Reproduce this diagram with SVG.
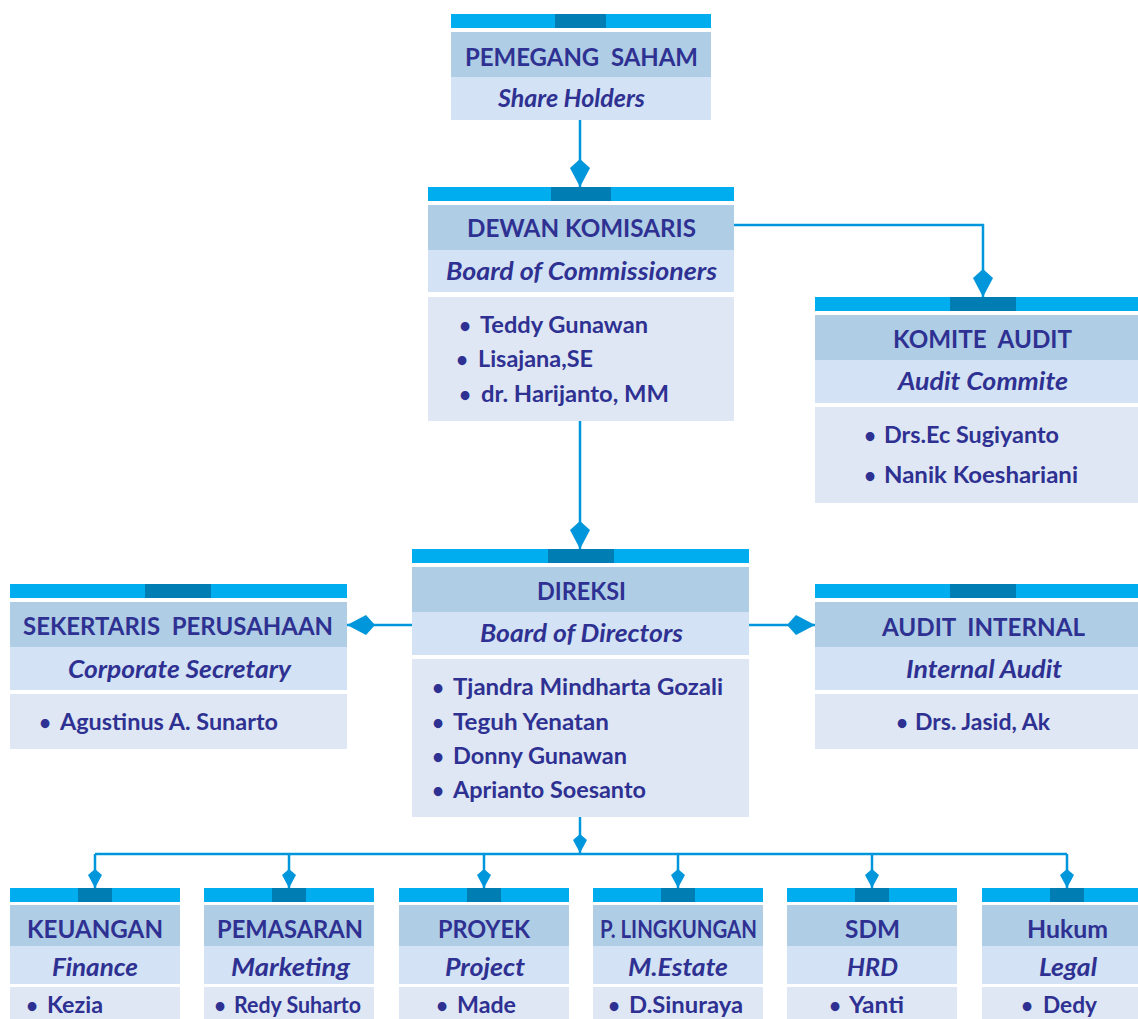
<svg xmlns="http://www.w3.org/2000/svg" width="1138" height="1019" viewBox="0 0 1138 1019">
<style>
.bar{fill:#00AEEF}
.bard{fill:#007DB3}
.hd{fill:#AFCDE5}
.sb{fill:#D3E2F4}
.ls{fill:#DFE7F4}
text{font-family:"Lato","Open Sans",sans-serif;font-weight:bold;fill:#2E3192;white-space:pre}
.t{font-size:24px}
.s{font-size:24px;font-style:italic}
.n{font-size:22.5px}
.b{font-size:20px;text-anchor:middle}
.c{fill:none;stroke:#0096DB;stroke-width:2.5}
</style>
<defs>
<marker id="dm" markerUnits="userSpaceOnUse" markerWidth="28" markerHeight="20" viewBox="0 0 28 20" refX="28" refY="10" orient="auto">
<path d="M0,10 L9,0 L28,10 L9,20 Z" fill="#0096DB"/>
</marker>
<marker id="ds" markerUnits="userSpaceOnUse" markerWidth="19" markerHeight="14" viewBox="0 0 19 14" refX="19" refY="7" orient="auto">
<path d="M0,7 L6,0 L19,7 L6,14 Z" fill="#0096DB"/>
</marker>
</defs>

<g id="connectors">
<path class="c" d="M580,120 V187" marker-end="url(#dm)"/>
<path class="c" d="M734,225 H983 V297" marker-end="url(#dm)"/>
<path class="c" d="M580,421 V549" marker-end="url(#dm)"/>
<path class="c" d="M412,625 H347" marker-end="url(#dm)"/>
<path class="c" d="M749,625 H815" marker-end="url(#dm)"/>
<path class="c" d="M580,817 V853" marker-end="url(#ds)"/>
<path class="c" d="M95,854 H1067"/>
<path class="c" d="M95,854 V888" marker-end="url(#ds)"/>
<path class="c" d="M289,854 V888" marker-end="url(#ds)"/>
<path class="c" d="M484,854 V888" marker-end="url(#ds)"/>
<path class="c" d="M678,854 V888" marker-end="url(#ds)"/>
<path class="c" d="M872,854 V888" marker-end="url(#ds)"/>
<path class="c" d="M1067,854 V888" marker-end="url(#ds)"/>
</g>

<g id="pemegang-saham">
<rect class="bar" x="451" y="14" width="260" height="14"/>
<rect class="bard" x="555" y="14" width="51" height="14"/>
<rect class="hd" x="451" y="32" width="260" height="45"/>
<rect class="sb" x="451" y="77" width="260" height="43"/>
<text class="t" x="465" y="66" textLength="233" lengthAdjust="spacingAndGlyphs" xml:space="preserve">PEMEGANG  SAHAM</text>
<text class="s" x="498" y="107" textLength="147" lengthAdjust="spacingAndGlyphs">Share Holders</text>
</g>

<g id="dewan-komisaris">
<rect class="bar" x="428" y="187" width="306" height="14"/>
<rect class="bard" x="551" y="187" width="60" height="14"/>
<rect class="hd" x="428" y="205" width="306" height="45"/>
<rect class="sb" x="428" y="250" width="306" height="42"/>
<rect class="ls" x="428" y="297" width="306" height="124"/>
<text class="t" x="467" y="237" textLength="229" lengthAdjust="spacingAndGlyphs">DEWAN KOMISARIS</text>
<text class="s" x="446" y="280" textLength="271" lengthAdjust="spacingAndGlyphs">Board of Commissioners</text>
<text class="b" x="465" y="333">•</text>
<text class="n" x="480" y="333" textLength="168" lengthAdjust="spacingAndGlyphs">Teddy Gunawan</text>
<text class="b" x="462" y="367">•</text>
<text class="n" x="478" y="367" textLength="115" lengthAdjust="spacingAndGlyphs">Lisajana,SE</text>
<text class="b" x="465" y="402">•</text>
<text class="n" x="481" y="402" textLength="188" lengthAdjust="spacingAndGlyphs">dr. Harijanto, MM</text>
</g>

<g id="komite-audit">
<rect class="bar" x="815" y="297" width="336" height="14"/>
<rect class="bard" x="950" y="297" width="66" height="14"/>
<rect class="hd" x="815" y="315" width="336" height="45"/>
<rect class="sb" x="815" y="360" width="336" height="43"/>
<rect class="ls" x="815" y="407" width="336" height="96"/>
<text class="t" x="893" y="348" textLength="179" lengthAdjust="spacingAndGlyphs" xml:space="preserve">KOMITE  AUDIT</text>
<text class="s" x="898" y="390" textLength="170" lengthAdjust="spacingAndGlyphs">Audit Commite</text>
<text class="b" x="870" y="443">•</text>
<text class="n" x="884" y="443" textLength="175" lengthAdjust="spacingAndGlyphs">Drs.Ec Sugiyanto</text>
<text class="b" x="870" y="483">•</text>
<text class="n" x="884" y="483" textLength="194" lengthAdjust="spacingAndGlyphs">Nanik Koeshariani</text>
</g>

<g id="direksi">
<rect class="bar" x="412" y="549" width="337" height="14"/>
<rect class="bard" x="548" y="549" width="66" height="14"/>
<rect class="hd" x="412" y="567" width="337" height="45"/>
<rect class="sb" x="412" y="612" width="337" height="43"/>
<rect class="ls" x="412" y="659" width="337" height="158"/>
<text class="t" x="537" y="600" textLength="89" lengthAdjust="spacingAndGlyphs">DIREKSI</text>
<text class="s" x="480" y="642" textLength="203" lengthAdjust="spacingAndGlyphs">Board of Directors</text>
<text class="b" x="438" y="695">•</text>
<text class="n" x="453" y="695" textLength="270" lengthAdjust="spacingAndGlyphs">Tjandra Mindharta Gozali</text>
<text class="b" x="438" y="730">•</text>
<text class="n" x="453" y="730" textLength="156" lengthAdjust="spacingAndGlyphs">Teguh Yenatan</text>
<text class="b" x="438" y="764">•</text>
<text class="n" x="453" y="764" textLength="174" lengthAdjust="spacingAndGlyphs">Donny Gunawan</text>
<text class="b" x="438" y="798">•</text>
<text class="n" x="453" y="798" textLength="193" lengthAdjust="spacingAndGlyphs">Aprianto Soesanto</text>
</g>

<g id="sekertaris-perusahaan">
<rect class="bar" x="10" y="584" width="337" height="14"/>
<rect class="bard" x="145" y="584" width="66" height="14"/>
<rect class="hd" x="10" y="602" width="337" height="45"/>
<rect class="sb" x="10" y="647" width="337" height="43"/>
<rect class="ls" x="10" y="694" width="337" height="55"/>
<text class="t" x="23" y="635" textLength="310" lengthAdjust="spacingAndGlyphs" xml:space="preserve">SEKERTARIS  PERUSAHAAN</text>
<text class="s" x="68" y="678" textLength="223" lengthAdjust="spacingAndGlyphs">Corporate Secretary</text>
<text class="b" x="45" y="730">•</text>
<text class="n" x="60" y="730" textLength="218" lengthAdjust="spacingAndGlyphs">Agustinus A. Sunarto</text>
</g>

<g id="audit-internal">
<rect class="bar" x="815" y="584" width="336" height="14"/>
<rect class="bard" x="950" y="584" width="66" height="14"/>
<rect class="hd" x="815" y="602" width="336" height="45"/>
<rect class="sb" x="815" y="647" width="336" height="43"/>
<rect class="ls" x="815" y="694" width="336" height="55"/>
<text class="t" x="882" y="636" textLength="203" lengthAdjust="spacingAndGlyphs" xml:space="preserve">AUDIT  INTERNAL</text>
<text class="s" x="906" y="678" textLength="156" lengthAdjust="spacingAndGlyphs">Internal Audit</text>
<text class="b" x="902" y="730">•</text>
<text class="n" x="915" y="730" textLength="135" lengthAdjust="spacingAndGlyphs">Drs. Jasid, Ak</text>
</g>

<g id="keuangan">
<rect class="bar" x="10" y="888" width="170" height="14"/>
<rect class="bard" x="78" y="888" width="34" height="14"/>
<rect class="hd" x="10" y="905" width="170" height="41"/>
<rect class="sb" x="10" y="946" width="170" height="38"/>
<rect class="ls" x="10" y="987" width="170" height="40"/>
<text class="t" x="27" y="938" textLength="136" lengthAdjust="spacingAndGlyphs">KEUANGAN</text>
<text class="s" x="52" y="976" textLength="86" lengthAdjust="spacingAndGlyphs">Finance</text>
<text class="b" x="32" y="1013">•</text>
<text class="n" x="47" y="1013" textLength="56" lengthAdjust="spacingAndGlyphs">Kezia</text>
</g>

<g id="pemasaran">
<rect class="bar" x="204" y="888" width="170" height="14"/>
<rect class="bard" x="272" y="888" width="34" height="14"/>
<rect class="hd" x="204" y="905" width="170" height="41"/>
<rect class="sb" x="204" y="946" width="170" height="38"/>
<rect class="ls" x="204" y="987" width="170" height="40"/>
<text class="t" x="217" y="938" textLength="146" lengthAdjust="spacingAndGlyphs">PEMASARAN</text>
<text class="s" x="231" y="976" textLength="119" lengthAdjust="spacingAndGlyphs">Marketing</text>
<text class="b" x="220" y="1013">•</text>
<text class="n" x="234" y="1013" textLength="127" lengthAdjust="spacingAndGlyphs">Redy Suharto</text>
</g>

<g id="proyek">
<rect class="bar" x="399" y="888" width="170" height="14"/>
<rect class="bard" x="467" y="888" width="34" height="14"/>
<rect class="hd" x="399" y="905" width="170" height="41"/>
<rect class="sb" x="399" y="946" width="170" height="38"/>
<rect class="ls" x="399" y="987" width="170" height="40"/>
<text class="t" x="438" y="938" textLength="92" lengthAdjust="spacingAndGlyphs">PROYEK</text>
<text class="s" x="445" y="976" textLength="80" lengthAdjust="spacingAndGlyphs">Project</text>
<text class="b" x="442" y="1013">•</text>
<text class="n" x="457" y="1013" textLength="59" lengthAdjust="spacingAndGlyphs">Made</text>
</g>

<g id="p-lingkungan">
<rect class="bar" x="593" y="888" width="170" height="14"/>
<rect class="bard" x="661" y="888" width="34" height="14"/>
<rect class="hd" x="593" y="905" width="170" height="41"/>
<rect class="sb" x="593" y="946" width="170" height="38"/>
<rect class="ls" x="593" y="987" width="170" height="40"/>
<text class="t" x="600" y="938" textLength="157" lengthAdjust="spacingAndGlyphs">P. LINGKUNGAN</text>
<text class="s" x="628" y="976" textLength="100" lengthAdjust="spacingAndGlyphs">M.Estate</text>
<text class="b" x="614" y="1013">•</text>
<text class="n" x="629" y="1013" textLength="114" lengthAdjust="spacingAndGlyphs">D.Sinuraya</text>
</g>

<g id="sdm">
<rect class="bar" x="787" y="888" width="170" height="14"/>
<rect class="bard" x="855" y="888" width="34" height="14"/>
<rect class="hd" x="787" y="905" width="170" height="41"/>
<rect class="sb" x="787" y="946" width="170" height="38"/>
<rect class="ls" x="787" y="987" width="170" height="40"/>
<text class="t" x="845" y="938" textLength="55" lengthAdjust="spacingAndGlyphs">SDM</text>
<text class="s" x="847" y="976" textLength="51" lengthAdjust="spacingAndGlyphs">HRD</text>
<text class="b" x="835" y="1013">•</text>
<text class="n" x="849" y="1013" textLength="55" lengthAdjust="spacingAndGlyphs">Yanti</text>
</g>

<g id="hukum">
<rect class="bar" x="982" y="888" width="170" height="14"/>
<rect class="bard" x="1050" y="888" width="34" height="14"/>
<rect class="hd" x="982" y="905" width="170" height="41"/>
<rect class="sb" x="982" y="946" width="170" height="38"/>
<rect class="ls" x="982" y="987" width="170" height="40"/>
<text class="t" x="1027" y="938" textLength="81" lengthAdjust="spacingAndGlyphs">Hukum</text>
<text class="s" x="1039" y="976" textLength="58" lengthAdjust="spacingAndGlyphs">Legal</text>
<text class="b" x="1027" y="1013">•</text>
<text class="n" x="1043" y="1013" textLength="54" lengthAdjust="spacingAndGlyphs">Dedy</text>
</g>
</svg>
